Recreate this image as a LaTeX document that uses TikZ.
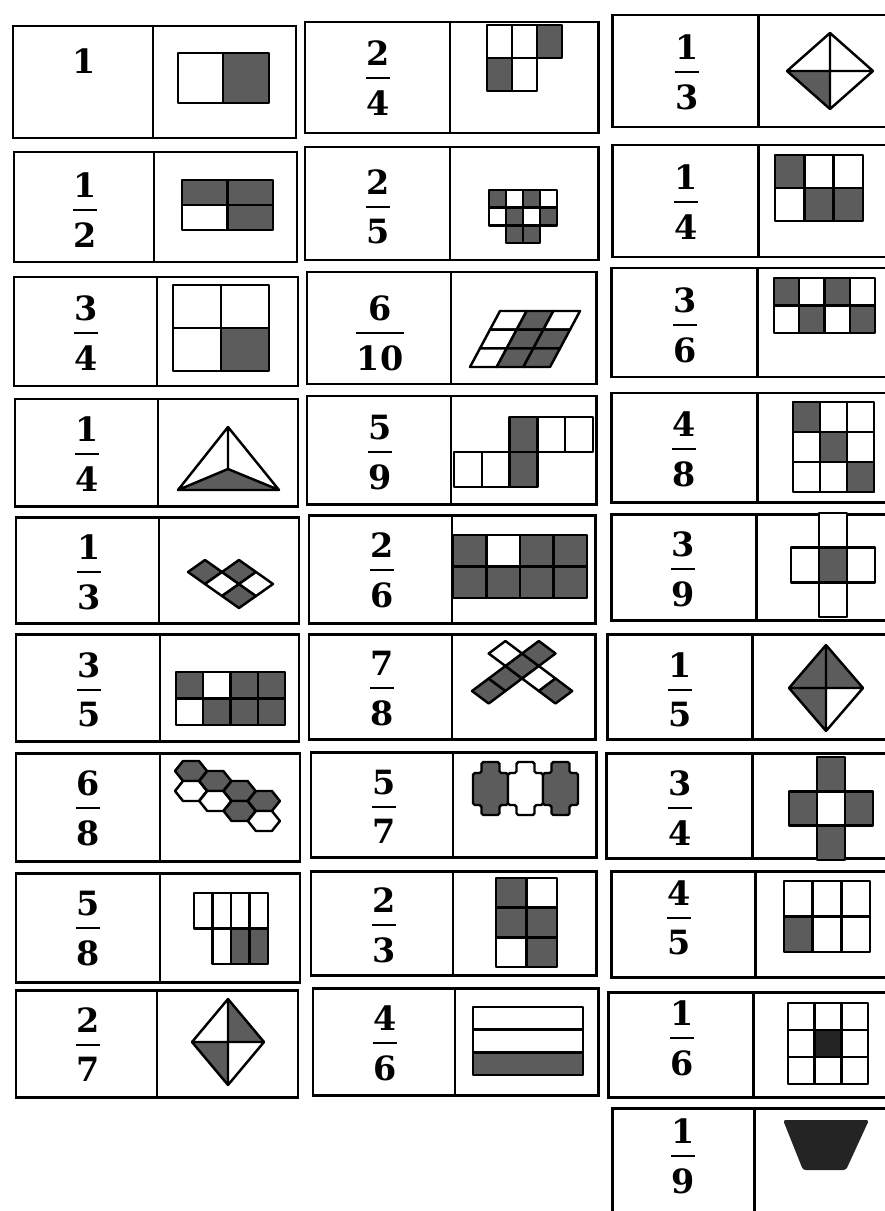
\documentclass[tikz,border=0pt]{standalone}
\usepackage{fontspec}
\setmainfont{DejaVu Serif}
\usetikzlibrary{calc, positioning}

\definecolor{tone}{gray}{0.36}
\definecolor{deeptone}{gray}{0.14}

\begin{document}
\begin{tikzpicture}[x=0.2mm, y=-0.2mm,
    card/.style={line width=1.7pt},
    piece/.style={line width=1.4pt, line join=round},
    num/.style={font=\fontsize{19}{21}\selectfont\bfseries, inner sep=0pt},
    fracbar/.style={line width=1.5pt}]

  % Page (pixel grid of the scan, y downwards)
  \useasboundingbox (0,0) rectangle (885,1211);
  \fill[white] (0,0) rectangle (885,1211);
  \clip (0,0) rectangle (885,1211);

  % Cards: left / divider / right / top / bottom
  \foreach \l/\m/\r/\t/\b in {13/153/296/26/138, 14/154/297/152/262, 14/157/298/277/386,
      15/158/298/399/506, 16/159/299/517/623, 16/160/299/634/741, 16/160/300/753/861,
      16/160/300/873/982, 16/157/298/990/1097,
      305/450/598/22/133, 305/450/598/147/260, 307/451/596/272/384, 307/451/596/396/504,
      309/452/595/515/623, 309/452/595/634/739, 311/453/596/752/857, 311/453/596/871/975,
      313/455/598/988/1095,
      612/758/895/15/127, 612/758/895/145/257, 611/757/895/268/377, 611/757/895/393/502,
      611/756/895/514/620, 607/752/895/634/739, 606/752/895/753/858, 611/755/895/871/977,
      608/753/895/992/1097, 612/754/895/1108/1230}{
    \draw[card] (\l,\t) rectangle (\r,\b);
    \draw[card] (\m,\t) -- (\m,\b);
  }

  % Fractions (x / bar height / numerator / denominator)
  \node[num] (n0) at (84,61) {1};
  \foreach \x/\y/\n/\d [count=\i] in {85/210/1/2, 86/333/3/4, 87/454/1/4, 89/572/1/3,
      89/690/3/5, 88/808/6/8, 88/928/5/8, 88/1045/2/7,
      378/78/2/4, 378/207/2/5, 380/333/6/10, 380/452/5/9, 382/570/2/6, 382/688/7/8,
      384/807/5/7, 384/925/2/3, 385/1043/4/6,
      687/72/1/3, 686/202/1/4, 685/325/3/6, 684/449/4/8, 683/569/3/9, 680/690/1/5,
      680/808/3/4, 679/918/4/5, 682/1038/1/6, 683/1156/1/9}{
    \coordinate (b\i) at (\x,\y);
    \node[num, above=2.4mm of b\i] (n\i) {\n};
    \node[num, below=2.4mm of b\i] (d\i) {\d};
    \draw[fracbar] (d\i.west |- b\i) -- (d\i.east |- b\i);
  }

  % ---- Column 1 pictures
  % halves
  \draw[piece, fill=white] (178,53) rectangle (223,103);
  \draw[piece, fill=tone] (223,53) rectangle (269,103);

  % 2x2 block
  \foreach \i/\j/\f in {0/0/tone,1/0/tone,0/1/white,1/1/tone}
    \draw[piece, fill=\f] ({182+45.5*\i},{180+25*\j}) rectangle ++(45.5,25);

  % 2x2 square
  \foreach \i/\j/\f in {0/0/white,1/0/white,0/1/white,1/1/tone}
    \draw[piece, fill=\f] ({173+48*\i},{285+43*\j}) rectangle ++(48,43);

  % triangle
  \fill[fill=tone] (178,490) -- (228,469) -- (279,490) -- cycle;
  \draw[piece] (228,427) -- (178,490) -- (279,490) -- cycle
    (228,427) -- (228,469) (178,490) -- (228,469) -- (279,490);

  % rhombus chain
  \foreach \i/\j/\f in {0/0/tone,0/1/white,1/1/tone,0/2/tone,1/2/white}
    \draw[piece, fill=\f] ({188+17*\i+17*\j},{572-12*\i+12*\j})
      -- ++(17,-12) -- ++(17,12) -- ++(-17,12) -- cycle;

  % 2x4 strip
  \foreach \i/\j/\f in {0/0/tone,1/0/white,2/0/tone,3/0/tone,
      0/1/white,1/1/tone,2/1/tone,3/1/tone}
    \draw[piece, fill=\f] ({176+27.25*\i},{672+26.5*\j}) rectangle ++(27.25,26.5);

  % hexagons
  \foreach \c/\r/\f in {0/0/tone,0/1/white,1/0/tone,1/1/white,
      2/0/tone,2/1/tone,3/0/tone,3/1/white}
    \draw[piece, fill=\f, shift={({191+24.3*\c},{771+10*\c+20*\r})}]
      (-16,0) -- (-8,-10) -- (8,-10) -- (16,0) -- (8,10) -- (-8,10) -- cycle;

  % 4 over 3
  \foreach \i/\j/\f in {0/0/white,1/0/white,2/0/white,3/0/white,
      1/1/white,2/1/tone,3/1/tone}
    \draw[piece, fill=\f] ({194+18.5*\i},{893+35.5*\j}) rectangle ++(18.5,35.5);

  % diamond, two quarters
  \fill[fill=tone] (228,999) -- (264,1042) -- (228,1042) -- cycle
    (192,1042) -- (228,1085) -- (228,1042) -- cycle;
  \draw[piece] (228,999) -- (264,1042) -- (228,1085) -- (192,1042) -- cycle
    (228,999) -- (228,1085) (192,1042) -- (264,1042);

  % ---- Column 2 pictures
  % L of squares
  \foreach \i/\j/\f in {0/0/white,1/0/white,2/0/tone,0/1/tone,1/1/white}
    \draw[piece, fill=\f] ({487+25*\i},{25+33*\j}) rectangle ++(25,33);

  % small checker
  \foreach \i/\j/\f in {0/0/tone,1/0/white,2/0/tone,3/0/white,
      0/1/white,1/1/tone,2/1/white,3/1/tone,1/2/tone,2/2/tone}
    \draw[piece, fill=\f] ({489+17*\i},{190+17.7*\j}) rectangle ++(17,17.7);

  % parallelogram
  \foreach \i/\j/\f in {0/0/white,1/0/tone,2/0/white,0/1/white,1/1/tone,2/1/tone,
      0/2/white,1/2/tone,2/2/tone}
    \draw[piece, fill=\f] ({500+26.67*\i-10*\j},{311+18.67*\j})
      -- ++(26.67,0) -- ++(-10,18.67) -- ++(-26.67,0) -- cycle;

  % step of squares
  \foreach \i/\j/\f in {2/0/tone,3/0/white,4/0/white,0/1/white,1/1/white,2/1/tone}
    \draw[piece, fill=\f] ({454+27.8*\i},{417+35*\j}) rectangle ++(27.8,35);

  % 2x4 block
  \foreach \i/\j/\f in {0/0/tone,1/0/white,2/0/tone,3/0/tone,
      0/1/tone,1/1/tone,2/1/tone,3/1/tone}
    \draw[piece, fill=\f] ({453+33.5*\i},{535+31.5*\j}) rectangle ++(33.5,31.5);

  % cross of rhombi
  \foreach \i/\j/\f in {0/0/tone,1/0/tone,2/0/tone,3/0/tone,
      2/-1/white,2/1/white,2/2/tone}
    \draw[piece, fill=\f] ({472+16.7*\i+16.7*\j},{691-12.5*\i+12.5*\j})
      -- ++(16.7,-12.5) -- ++(16.7,12.5) -- ++(-16.7,12.5) -- cycle;

  % three plus pieces
  \foreach \x/\f in {473/tone,508/white,543/tone}
    \draw[piece, fill=\f, rounded corners=1pt, shift={(\x,0)}]
      (8.5,762) -- (26.5,762) -- (26.5,773) -- (35,773) -- (35,805) -- (26.5,805)
      -- (26.5,815) -- (8.5,815) -- (8.5,805) -- (0,805) -- (0,773) -- (8.5,773) -- cycle;

  % 2x3 column
  \foreach \i/\j/\f in {0/0/tone,1/0/white,0/1/tone,1/1/tone,0/2/white,1/2/tone}
    \draw[piece, fill=\f] ({496+30.5*\i},{878+29.7*\j}) rectangle ++(30.5,29.7);

  % bands
  \foreach \j/\f in {0/white,1/white,2/tone}
    \draw[piece, fill=\f] (473,{1007+22.7*\j}) rectangle ++(110,22.7);

  % ---- Column 3 pictures
  % diamond, one quarter
  \fill[fill=tone] (787,71) -- (830,71) -- (830,109) -- cycle;
  \draw[piece] (830,33) -- (873,71) -- (830,109) -- (787,71) -- cycle
    (830,33) -- (830,109) (787,71) -- (873,71);

  % 3x2
  \foreach \i/\j/\f in {0/0/tone,1/0/white,2/0/white,0/1/white,1/1/tone,2/1/tone}
    \draw[piece, fill=\f] ({775+29.3*\i},{155+33*\j}) rectangle ++(29.3,33);

  % 4x2 checker
  \foreach \i/\j/\f in {0/0/tone,1/0/white,2/0/tone,3/0/white,
      0/1/white,1/1/tone,2/1/white,3/1/tone}
    \draw[piece, fill=\f] ({774+25.25*\i},{278+27.5*\j}) rectangle ++(25.25,27.5);

  % 3x3 diagonal
  \foreach \i in {0,1,2}
    \foreach \j in {0,1,2}
      \draw[piece, fill=white] ({793+27*\i},{402+30*\j}) rectangle ++(27,30);
  \foreach \i in {0,1,2}
    \draw[piece, fill=tone] ({793+27*\i},{402+30*\i}) rectangle ++(27,30);

  % plus, shaded centre
  \foreach \i/\j/\f in {1/0/white,0/1/white,1/1/tone,2/1/white,1/2/white}
    \draw[piece, fill=\f] ({791+28*\i},{513+34.7*\j}) rectangle ++(28,34.7);

  % diamond, three quarters
  \fill[fill=tone] (826,645) -- (863,688) -- (826,688) -- (826,731) -- (789,688) -- cycle;
  \draw[piece] (826,645) -- (863,688) -- (826,731) -- (789,688) -- cycle
    (826,645) -- (826,731) (789,688) -- (863,688);

  % plus, white centre
  \foreach \i/\j/\f in {1/0/tone,0/1/tone,1/1/white,2/1/tone,1/2/tone}
    \draw[piece, fill=\f] ({789+28*\i},{757+34.3*\j}) rectangle ++(28,34.3);

  % 3x2, one shaded
  \foreach \i/\j/\f in {0/0/white,1/0/white,2/0/white,0/1/tone,1/1/white,2/1/white}
    \draw[piece, fill=\f] ({784+28.7*\i},{881+35.5*\j}) rectangle ++(28.7,35.5);

  % 3x3, centre shaded
  \foreach \i in {0,1,2}
    \foreach \j in {0,1,2}
      \draw[piece, fill=white] ({788+26.7*\i},{1003+27*\j}) rectangle ++(26.7,27);
  \draw[piece, fill=deeptone] (814.7,1030) rectangle ++(26.7,27);

  % trapezoid
  \fill[fill=deeptone, rounded corners=1.5pt] (783,1120) -- (869,1120) -- (846,1170) -- (803,1170) -- cycle;
\end{tikzpicture}
\end{document}
